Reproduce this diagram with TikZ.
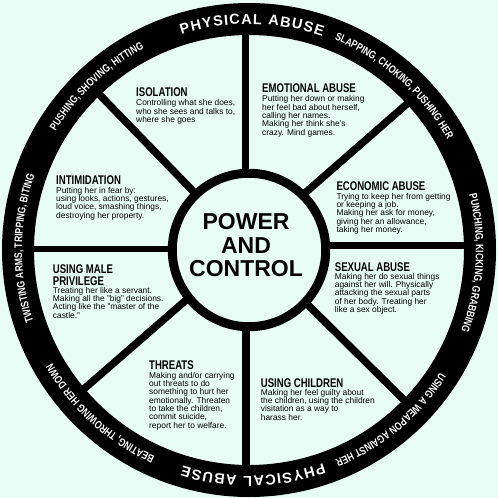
\documentclass[tikz,border=0pt]{standalone}
\usepackage{fontspec}
\setmainfont{Liberation Sans}
\newfontfamily\ringfamily[FakeStretch=0.78]{Liberation Sans}
\usepackage{graphicx}
\usetikzlibrary{decorations.text}
\definecolor{bg}{RGB}{232,252,246}
\newcommand\hd[1]{\scalebox{0.76}[1]{\fontsize{12.6}{12.6}\selectfont\bfseries #1}}
\newcommand\ringfont{\ringfamily\bfseries\fontsize{11}{11}\selectfont\color{white}}
\newcommand\bigringfont{\fontsize{14.5}{14.5}\selectfont\bfseries\color{white}}
\tikzset{
  blocktext/.style={anchor=north west, inner sep=0pt, align=left, font={\fontsize{8.4}{8.3}\selectfont\lineskiplimit-50pt}},
  spoke/.style={line width=7.5pt},
  ringtext/.style={decorate, decoration={text along path, text align=center, text={#1}}},
  ringfit/.style={decorate, decoration={text along path, text align=fit to path, text={#1}}},
}
\begin{document}
\begin{tikzpicture}[x=1pt,y=-1pt]
\fill[bg] (0,0) rectangle (498,498);
\useasboundingbox (0,0) rectangle (498,498);
\coordinate (C) at (249,250);
% spokes
\draw[spoke] (245.5,20) -- (245.5,200);
\draw[spoke] (246,300) -- (246,480);
\draw[spoke, line width=6pt] (15,248.5) -- (200,248.5);
\draw[spoke] (300,245.5) -- (480,245.5);
\draw[spoke] (83,77.6) -- (217.9,216.8);
\draw[spoke] (418.3,94) -- (274.1,220);
\draw[spoke] (75,396.7) -- (215,274.9);
\draw[spoke] (415.4,411.3) -- (269.8,267.1);
% rings
\draw[line width=32pt] (C) circle[radius=231];
\filldraw[fill=bg, line width=9pt] (C) circle[radius=76.75];
% ring texts
\begin{scope}[shift={(249,250)}]
\path[ringfit={|\bigringfont|PHYSICAL ABUSE}] (-107.4:226) arc[start angle=-107.4, end angle=-71.1, radius=226];
\path[ringfit={|\bigringfont|PHYSICAL ABUSE}] (70.8:226) arc[start angle=70.8, end angle=107.1, radius=226];
\path[ringtext={|\ringfont|SLAPPING, CHOKING, PUSHING HER}] (-88.5:227) arc[start angle=-88.5, end angle=-8.5, radius=227];
\path[ringtext={|\ringfont|PUNCHING, KICKING, GRABBING}] (-36.65:227) arc[start angle=-36.65, end angle=43.35, radius=227];
\path[ringtext={|\ringfont|USING A WEAPON AGAINST HER}] (10.2:227) arc[start angle=10.2, end angle=90.2, radius=227];
\path[ringtext={|\ringfont|BEATING, THROWING HER DOWN}] (92.3:227) arc[start angle=92.3, end angle=172.3, radius=227];
\path[ringtext={|\ringfont|TWISTING ARMS, TRIPPING, BITING}] (140.45:227) arc[start angle=140.45, end angle=220.45, radius=227];
\path[ringtext={|\ringfont|PUSHING, SHOVING, HITTING}] (-173:227) arc[start angle=-173, end angle=-93, radius=227];
\end{scope}
% center
\node (pc) [anchor=north, inner sep=0pt, align=center, font={\fontsize{23}{23.7}\selectfont\bfseries\lineskiplimit-50pt}] at (246,213.3) {POWER\\AND\\CONTROL};
% blocks
\node (iso) [blocktext] at (136,87.5) {\hd{ISOLATION}\\[1.2pt]Controlling what she does,\\who she sees and talks to,\\where she goes};
\node (emo) [blocktext] at (262,83.3) {\hd{EMOTIONAL ABUSE}\\[1.4pt]Putting her down or making\\her feel bad about herself,\\calling her names.\\Making her think she's\\crazy. Mind games.};
\node (inti) [blocktext] at (56,175) {\hd{INTIMIDATION}\\[1pt]Putting her in fear by:\\using looks, actions, gestures,\\loud voice, smashing things,\\destroying her property.};
\node (eco) [blocktext] at (336.3,181) {\hd{ECONOMIC ABUSE}\\[1pt]Trying to keep her from getting\\or keeping a job.\\Making her ask for money,\\giving her an allowance,\\taking her money.};
\node (priv) [blocktext] at (52.7,264.7) {\hd{USING MALE}\\[3pt]\hd{PRIVILEGE}\\Treating her like a servant.\\Making all the "big" decisions.\\Acting like the "master of the\\castle."};
\node (sex) [blocktext] at (334.7,262) {\hd{SEXUAL ABUSE}\\Making her do sexual things\\against her will. Physically\\attacking the sexual parts\\of her body. Treating her\\like a sex object.};
\node (thr) [blocktext] at (149,360.3) {\hd{THREATS}\\[0.7pt]Making and/or carrying\\out threats to do\\something to hurt her\\emotionally. Threaten\\to take the children,\\commit suicide,\\report her to welfare.};
\node (chi) [blocktext] at (260.7,378) {\hd{USING CHILDREN}\\Making her feel guilty about\\the children, using the children\\visitation as a way to\\harass her.};
\end{tikzpicture}
\end{document}
